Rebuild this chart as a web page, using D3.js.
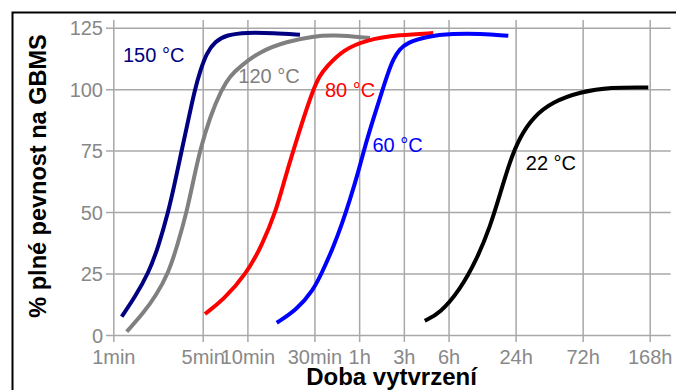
<!DOCTYPE html>
<html>
<head>
<meta charset="utf-8">
<script src="https://cdn.jsdelivr.net/npm/d3@7"></script>
<style>
  body { margin: 0; background: #fff; }
  svg { display: block; font-family: "Liberation Sans", Arial, sans-serif; }
</style>
</head>
<body>
<svg id="chart" width="676" height="390"></svg>
<script>
// Tick positions on the time axis (in minutes) and their labels
const tickMinutes = [1, 5, 10, 30, 60, 180, 360, 1440, 4320, 10080];
const tickLabels = ['1min', '5min', '10min', '30min', '1h', '3h', '6h', '24h', '72h', '168h'];
// the original axis is not a clean log axis, each tick sits on its own slot
const tickSlots = [0, 4, 6, 9, 11, 13, 15, 18, 21, 24];
const yTicks = [0, 25, 50, 75, 100, 125];

// Curves: [minutes, % strength]
const curve150 = [[1.163, 7.45], [1.478, 15.5], [1.878, 25], [2.249, 35.8], [2.691, 50], [3.04, 62.3], [3.426, 75.1],
    [3.86, 87.5], [4.35, 100], [4.81, 107.9], [5.32, 114.7], [6.05, 119.4], [7.25, 122.1], [9.89, 123.1],
    [15.3, 122.8], [23.66, 122.1]];
const curve120 = [[1.273, 1.34], [1.716, 8.84], [2.158, 16.1], [2.691, 25], [3.176, 36.6], [3.747, 50], [4.222, 62.7],
    [4.76, 75.1], [5.6, 88.8], [6.71, 100], [7.63, 105.3], [8.92, 109.2], [12.3, 115.4], [19.04, 119.4],
    [29.4, 121.5], [40.1, 122.1], [78.4, 120.8]];
const curve80 = [[5.18, 8.55], [6.88, 14.25], [9.89, 25], [12.7, 36.6], [15.9, 50], [18.37, 63.1], [21.22, 75.1],
    [24.98, 87.9], [29.45, 100], [32.7, 105.7], [36.3, 109.2], [46.9, 116], [72, 120.1], [162, 122.1], [284, 122.8]];
const curve60 = [[16.17, 5], [22.4, 10.2], [29.45, 18.3], [33.5, 25], [40, 35.4], [46, 45.2], [52, 55], [59.3, 66.4],
    [67.3, 75.1], [84.9, 87.9], [107.1, 100], [122.2, 106.7], [139.4, 112.4], [162.2, 116.2], [188.2, 118.8],
    [256, 121.5], [395, 122.6], [688, 122.6], [1238, 121.7]];
const curve22 = [[249, 5.8], [315, 8.8], [455, 18.3], [642, 30.5], [850, 44], [1045, 57.4], [1283, 70.8],
    [1546, 80.6], [1929, 88.8], [2653, 94.9], [4140, 98.9], [6141, 100.8], [9903, 100.7]];

const seriesNames = ['150 °C', '120 °C', '80 °C', '60 °C', '22 °C'];
const seriesData = [curve150, curve120, curve80, curve60, curve22];
const seriesColors = ['#000080', '#808080', '#ff0000', '#0000ff', '#000000'];
// where each label sits, in data units [minutes, %]
const labelAt = [[1.19, 111.2], [8.68, 102.5], [35.3, 96.8], [83.3, 74.6], [1701, 67.2]];

const svg = d3.select('#chart');

// frame (only top and left edge show in the picture)
svg.append('rect')
    .attr('x', 12.5).attr('y', 12.5)
    .attr('width', 800).attr('height', 500)
    .attr('fill', 'none')
    .attr('stroke', '#000')
    .attr('stroke-width', 2);

const x0 = 113.3, slotW = 22.35;
const x = d3.scaleLog()
    .domain(tickMinutes)
    .range(tickSlots.map(s => x0 + s * slotW));

const y = d3.scaleLinear()
    .domain([0, 125])
    .range([335, 27.7]);

const gridColor = '#a8a8a8';
const tickColor = '#888888';

// x axis + vertical grid
const xAxis = svg.append('g')
    .attr('transform', 'translate(0,342)')
    .call(d3.axisBottom(x)
        .tickValues(tickMinutes)
        .tickFormat((d, i) => tickLabels[i])
        .tickSize(-322)
        .tickPadding(7.5));
xAxis.select('.domain').remove();
xAxis.selectAll('line').attr('stroke', gridColor).attr('stroke-width', 1.5);
xAxis.selectAll('text')
    .attr('fill', tickColor)
    .style('font-size', '20px');

// y axis + horizontal grid
const yAxis = svg.append('g')
    .attr('transform', 'translate(106,0)')
    .call(d3.axisLeft(y)
        .tickValues(yTicks)
        .tickSize(-564.7)
        .tickPadding(3));
yAxis.select('.domain').remove();
yAxis.selectAll('line').attr('stroke', gridColor).attr('stroke-width', 1.5);
yAxis.selectAll('text')
    .attr('fill', tickColor)
    .attr('dy', '0.35em')
    .style('font-size', '20px');

// curves (b-spline smooths out the reading noise)
const line = d3.line()
    .x(d => x(d[0]))
    .y(d => y(d[1]))
    .curve(d3.curveBasis);

seriesData.forEach((data, i) => {
    svg.append('path')
        .datum(data)
        .attr('d', line)
        .attr('fill', 'none')
        .attr('stroke', seriesColors[i])
        .attr('stroke-width', 4)
        .attr('stroke-linejoin', 'round');
});

// curve labels
seriesNames.forEach((name, i) => {
    svg.append('text')
        .attr('x', x(labelAt[i][0]))
        .attr('y', y(labelAt[i][1]))
        .attr('fill', seriesColors[i])
        .style('font-size', '20px')
        .text(name);
});

// axis titles
svg.append('text')
    .attr('x', 391.5)
    .attr('y', 385)
    .attr('text-anchor', 'middle')
    .style('font-size', '24px')
    .style('font-weight', 'bold')
    .text('Doba vytvrzení');

svg.append('text')
    .attr('transform', 'translate(46,176) rotate(-90)')
    .attr('text-anchor', 'middle')
    .style('font-size', '23.5px')
    .style('font-weight', 'bold')
    .text('% plné pevnost na GBMS');
</script>
</body>
</html>
